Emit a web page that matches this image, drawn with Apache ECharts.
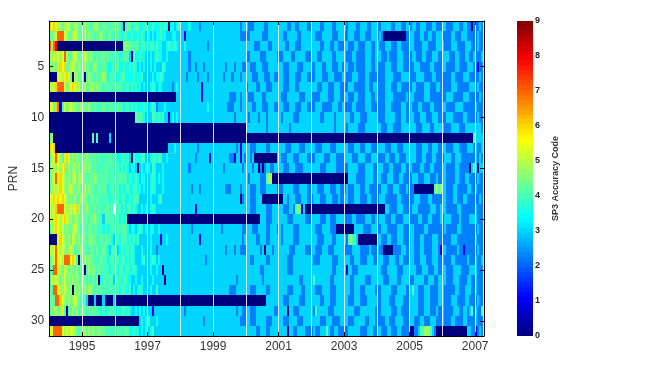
<!DOCTYPE html>
<html><head><meta charset="utf-8">
<style>html,body{margin:0;padding:0;background:#fff}#c{width:669px;height:365px}</style>
<script src="https://cdn.jsdelivr.net/npm/echarts@6/dist/echarts.min.js"></script>
</head><body><div id="c"></div>
<script>
// One group per year from 1994 (16 bins a year). Symbols stand for the SP3 accuracy
// code read from each shade in the picture; see shadeCodes below.
const prn01="6y6y55g55ygg55gg g5gg4g55g4gg44gg gg4t04ggt4g4tt44 tt4ttt4t4t0tt3t4 3333t33332333333 3333333333333233 3222333332233333 3333223322333322 3333223333223333 3233332233322333 2233333223332233 2332233322233222 3322233322332202 2232";
const prn02="gg5y777y5gg5y5gg g5g5gg4gg5g4gg44 g44t44tt4tt4t4t3 t3t3tt4tt333tt33 3313333333333333 3333333333333222 2233333322233333 3322333332233333 3322233333222333 2233322233222333 2320000000000022 3322233223322333 2222332223332222 2322";
const prn03="7578000000000000 0000000000000000 0000g5gg44g4t44t t44t4tt33t4tt4t3 33t3333333333233 3333333333333333 3333222333322333 3332233322233333 3333223332233222 3322233222333223 3222333222332222 3322223332222333 3222333222233322 2322";
const prn04="55y5y5y75gg5y5gg gy5g5g4g4gg4g444 44t4g44304tt4tt3 3t3t4tt33t333333 3333233333333333 3333333333333333 2233333222333332 2233332233333222 3332233333223333 3222332222333223 3322232222333222 2332223322233322 3332223322233223 2223";
const prn05="5g5gy6y6gg5y5g5g g5gg4g5g44g4tt44 g4tt4tt4t4t3t3t3 3t3t3334t3333333 3333233233323333 3333332333233322 3322233322233333 3322233332223333 2233322333222332 3322232222333223 2222333222333222 2233322222332222 3322223322223332 2122";
const prn06="0000yy5y6yg055gg g045gg4g4g5gt444 tt444tttt4ttt433 33t3tt4t33333333 3332333323333233 3333323332333233 3332223332223322 3322233322233322 2233322233322223 3222333222332222 2222333322223333 2223333222233222 2222332222333222 2232";
const prn07="y5y6777yg5y6y5yg g5gg55g5gg4g4444 g444t44t4t4tt3t3 3t4t3tt3333323t3 3333333333133333 3333333333333333 2333322333222333 3322233322333333 3332233322233322 2233322222332233 2222333222332222 2332222333222332 2222333222222333 2322";
const prn08="0000000000000000 0000000000000000 0000000000000000 0000000000000033 3333333333133333 3333333322233233 3222333322333333 3222333333222333 2222333322233322 3322233222333223 2222333322222232 3322222333222222 2233322222333222 2232";
const prn09="yyg6714yg5y55gg5 5gg5g4g444g44g44 4g44t44t4t4ttt4t 3t4t2333t3333333 3333333333333t33 3333333222333233 3332233322233322 3322233322233322 2233322222333223 2222332222333222 2222333222223322 3222332222332222 3322223333222222 3222";
const prn10="0000000000000000 0000000000000000 0000000000g444t3 3344t4t43313t3t3 3333333333333333 3333333333233333 3233332333233333 3233333222333333 3333223333323333 3332233322233333 2222333332223322 3322233322233322 2233322222332222 2322";
const prn11="0000000000000000 0000000000000000 0000000000000000 0000000000000000 0000000000000000 0000000000000000 3333333333233333 3333323333333333 3333333333323333 3233333222333333 3322233322223333 3332223333223333 3222333322233333 3332";
const prn12="g500000000000000 0000040400000300 0000000000000000 0000000000000000 0000000000000000 0000000000000000 0000000000000000 0000000000000000 0000000000000000 0000000000000000 0000000000000000 0000000000000000 0000000000000004 3333";
const prn13="6y60000000000000 0000000000000000 0000000000000000 0000000000333t33 3333333323333333 3333333333323133 3322233333223333 3332223333222333 3322233332223333 3322233322333222 3333222333222333 3332223332233322 3322233322223332 3223";
const prn14="gyy7y54y6yg5g5gg gg5gg4g4g4444g44 4tt44t4304ttt443 3t44t4433t333333 3333333233333313 3333333322133132 3323000000000003 3222333222333322 2233332223332222 3333222333222333 2222332223322233 3332223322233222 2333223332222222 3232";
const prn15="gy55y5y6g5g55g5g g5g5g4g4444g4444 44t4t4t3tt303t3t t34t333t33333333 3333233333333333 3333323333333323 3332330202332233 3322233322223333 3333222333332222 2233333222333322 3332223322223322 3222233222332222 3322223322222034 3033";
const prn16="g5y7y6y5g5g5yg55 5gg4gg5g4g4g4444 44g444t4tt4t3tt3 3t4t3t3t33333333 3333333333333333 3333333333333333 3233333222455000 0000000000000000 0000000000000000 0033332222333322 3322233322233222 2333222333222322 3322223322233222 2322";
const prn17="g5y5y6y5g5y5gg5g g5g5gg44g4g4t444 44t4t44tt44tt3t3 3t4t333t33333333 3333323332333333 3333332223333233 3322233222333332 2233333222333322 3332223332223322 2322233322332222 2233322233322232 2200000000004545 3322233222223322 3222";
const prn18="yy6y6y6y5g5g5gg5 g5g4gg4g44444t44 44t44tt4t4443333 3t333t4333333333 3333333333333333 3333333333333023 3322233300000000 0033233322233322 2333222333222322 3322233322233222 2333222222332222 2233322223322222 3322233222332222 2232";
const prn19="y5y6777y55y5y65g gg5gg4g4g444g44 444t4t44t4t33t3t 3t4t333333333333 3333333133333333 3333333333333333 3322233333222333 3322233245413000 0000000000000000 0000000000000000 0000332222333222 2333222222333223 3322222332222222 3222";
const prn20="y5y6y5y6y55g55gg 5gg4gg5g443g4444 44t4t40000000000 0000000000000000 0000000000000000 0000000000000000 0000000333222333 3333222333333222 3333222332223333 2222332222333223 2333222332222333 2222332223322223 2333222232222333 3222";
const prn21="g5y6y5yg5gg5y5g4 5g4gg4g444t4t444 4444g4t3tt3t4t3t 3tt33t3333333333 3333323333333333 3333233333333322 3332223333223332 3233333222333333 3322233332220000 0000033332222333 2233322222333222 3322222332222222 2322222332222222 2322";
const prn22="0000y6y5g5gy5g5g 5g4g5gg44g4g44t3 44t444t4t4t43333 3t3333133t333333 3333333331333333 3333333333333323 3333322333223333 3233333222333333 3332223333223333 3245443000000000 3322233222333222 3322233222233322 2222333222222222 3222";
const prn23="y5y7y5y5g5y54gg5 gg44gg4g44g4t344 43t4t44t4t333t33 3t33233333333333 3333333333333333 3333332333233222 3333333230333233 3333322233333222 3322233322233333 2222333322223222 3220000022223322 3322233222233321 3322222322122222 2322";
const prn24="g5y7yy5777y6y40g g5g5gg444g44t444 44t44t4t4t333t43 3t4t3t3333333333 3333333333332333 3333333333333333 3322333333223333 3333222333333333 3222333333222333 3332233322233322 3332223332233222 3322233322233322 3222332222223222 3223";
const prn25="g477y5gy5g5gg54g 5045g5g4g4444t44 4t44t44tt4t33333 3t33t33033333333 3333333333333333 3333333333333333 3333333223333333 3333222333333333 3333333333223333 3133222333333333 3322233333222333 3332223332223322 3322233332222333 3222";
const prn26="4y5y5g5yg5g5g5gg 5g4g4g4g0t444443 444t44tt33t33t33 33t3333303333333 3333333333333333 3333333333323333 3333333323333333 3333333333223333 3433333332233333 3332233333222333 3332223333223333 2233333223332233 3322233322223322 3222";
const prn27="g477y55y5g505g5g g5g55g4g4g444444 44t44tt43t3t4t33 3t33433333333333 3333333333333333 3333333322233333 3322233333223333 3333222333322333 3322233332223333 3332233322333332 2233333222333322 3433222333222233 3222223322233322 3222";
const prn28="gg4776y5g5g5y5g4 4430003000300003 0000000000000000 0000000000000000 0000000000000000 0000000000000000 0000000000333333 3322233333222333 3333223332223333 3322233322233333 2233332223333222 3333222333222233 3222333222233222 2322";
const prn29="gg55g5y404g5g54g 5g4g4gg44t4t4444 t4t44t4t33t3t3t3 3313333333333333 3323333333333333 3333333333323322 3322233333333322 3333033222333333 3243333322233333 3333322233333332 2233333222332222 3333222333222322 3222233322332342 3224";
const prn30="0000000000000000 0000000000000000 0000000000003t3t 4333t33333333333 3333333333323333 3333333333333222 3322233333222333 3322233332223333 3333222333222233 3322233333223332 2222332223333222 3322233222333222 3222332222332222 3222";
const prn31="yy7777y5y5yy5g4g g5g5g5gg5gg44444 4g444g4tt4tt3t3t 3t43333333333333 3333333333333333 3333333333333333 3333322333223333 3333033223333222 2322333432233222 2233333322233322 3322233222332222 0022344555432000 0000000000003322 1232";

const prnRows=[prn01,prn02,prn03,prn04,prn05,prn06,prn07,prn08,prn09,prn10,prn11,prn12,prn13,prn14,prn15,prn16,prn17,prn18,prn19,prn20,prn21,prn22,prn23,prn24,prn25,prn26,prn27,prn28,prn29,prn30,prn31];
const shadeCodes={'2':2.25,'5':4.8,t:3.5,g:4.3,y:5.3};
const binsPerYear=16, firstYear=1994, lastYear=2007.27;
const xTicks=[1995,1997,1999,2001,2003,2005,2007];
const dataGaps=[1995,1996,1997,1998,1999,2000,2001,2002,2003,2004,2005,2006,2007];
const yTicks=[5,10,15,20,25,30];
const barLevels=Array.from({length:64},(_,i)=>i*9/64);
const jet=['#00007f','#0000ff','#007fff','#00ffff','#7fff7f','#ffff00','#ff7f00','#ff0000','#7f0000'];

const cells=[];
prnRows.forEach((row,r)=>{
  row.split(' ').forEach((grp,g)=>{
    [...grp].forEach((ch,p)=>{
      cells.push([firstYear+g+p/binsPerYear,r+1,ch in shadeCodes?shadeCodes[ch]:+ch]);
    });
  });
});
const font='"Liberation Sans", Arial, sans-serif';
const ax={lineStyle:{color:'#000',width:1}};
const tk=vals=>({show:true,inside:true,length:4,customValues:vals,lineStyle:{color:'#000',width:1}});
const snapRect=(api,a,b)=>{
  const p=api.coord(a),q=api.coord(b);
  const x0=Math.round(Math.min(p[0],q[0])),x1=Math.round(Math.max(p[0],q[0]));
  const y0=Math.round(Math.min(p[1],q[1])),y1=Math.round(Math.max(p[1],q[1]));
  return {type:'rect',shape:{x:x0,y:y0,width:x1-x0,height:y1-y0},style:{fill:api.visual('color')},silent:true};
};

const chart=echarts.init(document.getElementById('c'),null,{renderer:'canvas'});
chart.setOption({
  animation:false,backgroundColor:'#fff',
  visualMap:{type:'continuous',show:false,min:0,max:9,dimension:2,seriesIndex:[0,1],inRange:{color:jet}},
  grid:[{left:48,top:21,width:436,height:315},{left:517,top:21,width:16,height:315}],
  xAxis:[
    {type:'value',gridIndex:0,position:'bottom',min:firstYear,max:lastYear,z:10,splitLine:{show:false},axisLine:ax,axisTick:tk(xTicks),
     axisLabel:{customValues:xTicks,color:'#333',fontFamily:font,fontSize:12,margin:5,formatter:v=>String(v)}},
    {type:'value',gridIndex:0,position:'top',min:firstYear,max:lastYear,z:10,splitLine:{show:false},axisLine:ax,axisTick:tk(xTicks),axisLabel:{show:false}},
    {type:'value',gridIndex:1,min:0,max:1,show:false}
  ],
  yAxis:[
    {type:'value',gridIndex:0,position:'left',inverse:true,min:0.5,max:31.5,z:10,splitLine:{show:false},axisLine:ax,axisTick:tk(yTicks),
     axisLabel:{customValues:yTicks,color:'#333',fontFamily:font,fontSize:12,margin:5},
     name:'PRN',nameLocation:'middle',nameRotate:90,nameGap:20,nameTextStyle:{color:'#333',fontFamily:font,fontSize:12}},
    {type:'value',gridIndex:0,position:'right',inverse:true,min:0.5,max:31.5,z:10,splitLine:{show:false},axisLine:ax,axisTick:tk(yTicks),axisLabel:{show:false}},
    {type:'value',gridIndex:1,position:'right',min:0,max:9,interval:1,splitLine:{show:false},axisLine:{show:false},axisTick:{show:false},
     axisLabel:{color:'#222',fontFamily:font,fontSize:9,fontWeight:'bold',margin:2},
     name:'SP3 Accuracy Code',nameLocation:'middle',nameRotate:90,nameGap:18,nameTextStyle:{color:'#333',fontFamily:font,fontSize:9,fontWeight:'bold'}}
  ],
  series:[
    {type:'custom',xAxisIndex:0,yAxisIndex:0,data:cells,silent:true,clip:true,progressive:0,animation:false,
     encode:{x:0,y:1},
     renderItem:(params,api)=>snapRect(api,[api.value(0),api.value(1)-0.5],[api.value(0)+1/binsPerYear,api.value(1)+0.5])},
    {type:'custom',xAxisIndex:2,yAxisIndex:2,data:barLevels.map(v=>[0,v,v+4.5/64]),silent:true,progressive:0,animation:false,
     encode:{x:0,y:1},
     renderItem:(params,api)=>snapRect(api,[0,api.value(1)],[1,api.value(1)+9/64])},
    {type:'line',xAxisIndex:0,yAxisIndex:0,data:[],silent:true,
     markLine:{silent:true,symbol:'none',animation:false,label:{show:false},
       lineStyle:{color:'#fff',width:1,type:'solid',opacity:0.85},
       data:dataGaps.map(y=>({xAxis:y}))}}
  ]
});
</script></body></html>
